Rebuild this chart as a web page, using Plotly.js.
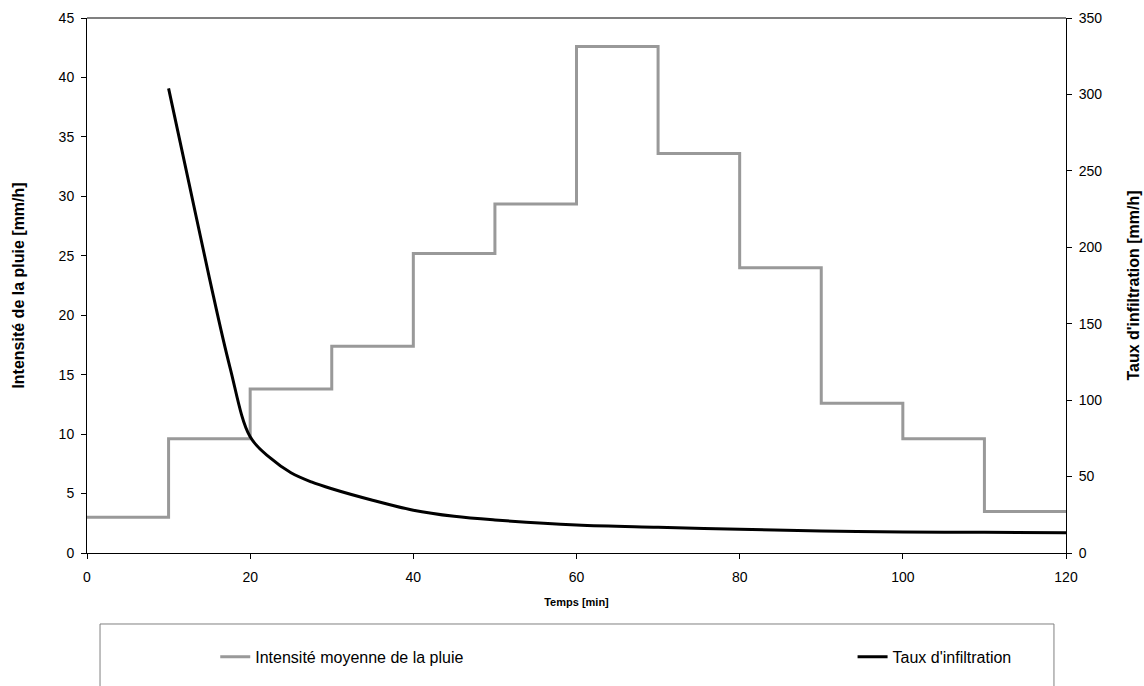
<!DOCTYPE html>
<html>
<head>
<meta charset="utf-8">
<script src="https://cdn.plot.ly/plotly-3.0.1.min.js"></script>
<style>html,body{margin:0;padding:0;background:#fff;}#chart{width:1144px;height:686px;}</style>
</head>
<body>
<div id="chart"></div>
<script>
// Step series: rain intensity (left axis), value held from each x to the next
const rainTime = [0, 10, 20, 30, 40, 50, 60, 70, 80, 90, 100, 110, 120];
const rainIntensity = [3.0, 9.6, 13.8, 17.4, 25.2, 29.35, 42.6, 33.6, 24.0, 12.6, 9.6, 3.5, 3.5];

// Infiltration rate (right axis)
const infTime = [10, 12.5, 15, 17.5, 20, 22.5, 25, 27.5, 30, 35, 40, 45, 50, 60, 70, 80, 90, 100, 110, 120];
const infRate = [304, 242, 180, 122, 76, 62, 52.5, 46.5, 42, 34.5, 28, 24, 21.6, 18.3, 16.8, 15.5, 14.4, 13.8, 13.5, 13.3];

const xTicks = [0, 20, 40, 60, 80, 100, 120];
const yLeftTicks = [0, 5, 10, 15, 20, 25, 30, 35, 40, 45];
const yRightTicks = [0, 50, 100, 150, 200, 250, 300, 350];

const FONT = 'Liberation Sans, Arial, sans-serif';

const traces = [
  {
    x: rainTime, y: rainIntensity, type: 'scatter', mode: 'lines',
    line: {shape: 'hv', color: '#999999', width: 3},
    name: 'Intensité moyenne de la pluie', yaxis: 'y', legend: 'legend'
  },
  {
    x: infTime, y: infRate, type: 'scatter', mode: 'lines',
    line: {shape: 'spline', smoothing: 1, color: '#000000', width: 3},
    name: "Taux d'infiltration", yaxis: 'y2', legend: 'legend2'
  }
];

const legendCommon = {
  orientation: 'h', yanchor: 'middle', y: -0.194,
  font: {family: FONT, size: 16, color: '#000'},
  bgcolor: 'rgba(0,0,0,0)', borderwidth: 0, itemwidth: 30
};

const layout = {
  width: 1144, height: 686,
  margin: {l: 87, r: 78, t: 18, b: 133},
  paper_bgcolor: '#ffffff', plot_bgcolor: '#ffffff',
  font: {family: FONT, size: 14, color: '#000'},
  showlegend: true,
  legend: Object.assign({}, legendCommon, {x: 0.131, xanchor: 'left'}),
  legend2: Object.assign({}, legendCommon, {x: 0.782, xanchor: 'left'}),
  xaxis: {
    range: [0, 120], tickvals: xTicks, ticktext: xTicks.map(String),
    showgrid: false, zeroline: false, showline: true, linecolor: '#000', linewidth: 1,
    ticks: 'outside', ticklen: 5, tickcolor: '#000', ticklabelstandoff: 6,
    tickfont: {family: FONT, size: 14},
    title: {text: '<b>Temps [min]</b>', font: {family: FONT, size: 11}, standoff: 14}
  },
  yaxis: {
    range: [0, 45], tickvals: yLeftTicks, ticktext: yLeftTicks.map(String),
    showgrid: false, zeroline: false, showline: true, linecolor: '#000', linewidth: 1,
    ticks: 'outside', ticklen: 5, tickcolor: '#000', ticklabelstandoff: 4,
    tickfont: {family: FONT, size: 14},
    title: {text: '<b>Intensité de la pluie [mm/h]</b>', font: {family: FONT, size: 16}, standoff: 30}
  },
  yaxis2: {
    range: [0, 350], tickvals: yRightTicks, ticktext: yRightTicks.map(String),
    overlaying: 'y', side: 'right',
    showgrid: false, zeroline: false, showline: true, linecolor: '#000', linewidth: 1,
    ticks: 'outside', ticklen: 5, tickcolor: '#000', ticklabelstandoff: 4,
    tickfont: {family: FONT, size: 14},
    title: {text: "<b>Taux d'infiltration [mm/h]</b>", font: {family: FONT, size: 16}, standoff: 26}
  },
  shapes: [
    {type: 'line', xref: 'paper', yref: 'paper', x0: 0, x1: 1, y0: 1, y1: 1,
     line: {color: '#808080', width: 2}},
    {type: 'rect', xref: 'paper', yref: 'paper', x0: 0.0133, x1: 0.9877, y0: -0.1327, y1: -0.30,
     line: {color: '#808080', width: 1}, fillcolor: 'rgba(0,0,0,0)'}
  ]
};

Plotly.newPlot('chart', traces, layout, {displayModeBar: false, staticPlot: true});
</script>
</body>
</html>
